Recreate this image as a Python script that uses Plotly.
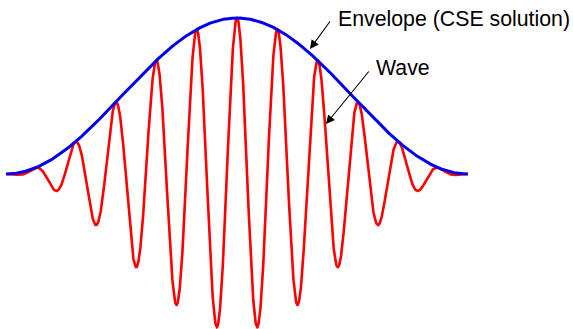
import numpy as np
import plotly.graph_objects as go

# Parameters (units: one carrier wavelength)
half_width = 5.7          # envelope goes to zero at +/- half_width wavelengths
carrier_wavelength = 1.0  # unit wavelength
peak_amplitude = 1.0

t = np.linspace(-half_width, half_width, 2001)
envelope = peak_amplitude * 0.5 * (1 + np.cos(np.pi * t / half_width))
wave = envelope * np.cos(2 * np.pi * t / carrier_wavelength)

labels = ["Envelope (CSE solution)", "Wave"]

W, H = 573, 329
px_per_x = 40.5
px_per_y = 156.0
x0_px, y0_px = 237.0, 174.0

def dx(px):
    return (px - x0_px) / px_per_x

def dy(py):
    return (y0_px - py) / px_per_y

fig = go.Figure()
fig.add_trace(go.Scatter(x=t, y=wave, mode="lines",
                         line=dict(color="#ff0000", width=2.6), hoverinfo="skip"))
fig.add_trace(go.Scatter(x=t, y=envelope, mode="lines",
                         line=dict(color="#0000ee", width=3.0), hoverinfo="skip"))

font = dict(family="Liberation Sans, Arial, sans-serif", size=21.3, color="black")

# arrows
arrows = [((310, 49), (331, 20)), ((326, 124), (370, 70))]
for (hx, hy), (tx, ty) in arrows:
    fig.add_annotation(x=dx(hx), y=dy(hy), ax=dx(tx), ay=dy(ty),
                       xref="x", yref="y", axref="x", ayref="y",
                       text="", showarrow=True, arrowhead=2, arrowsize=1.6,
                       arrowwidth=1.1, arrowcolor="black", standoff=0)

# labels
fig.add_annotation(x=dx(336), y=dy(18.5), xref="x", yref="y", text=labels[0],
                   showarrow=False, xanchor="left", yanchor="middle", font=font)
fig.add_annotation(x=dx(374), y=dy(68), xref="x", yref="y", text=labels[1],
                   showarrow=False, xanchor="left", yanchor="middle", font=font)

fig.update_layout(
    width=W, height=H,
    margin=dict(l=0, r=0, t=0, b=0),
    paper_bgcolor="white", plot_bgcolor="white",
    showlegend=False,
    xaxis=dict(range=[dx(0), dx(W)], visible=False, fixedrange=True),
    yaxis=dict(range=[dy(H), dy(0)], visible=False, fixedrange=True),
)

fig.write_html("out.html",
               post_script="document.body.style.margin='0px';document.body.style.overflow='hidden';",
               config={"displayModeBar": False})
